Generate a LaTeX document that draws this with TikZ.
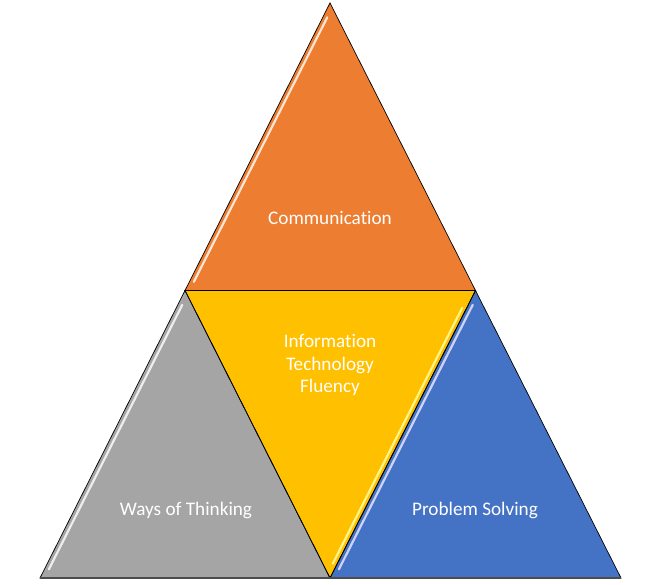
\documentclass[tikz,border=0pt]{standalone}
\usepackage{fontspec}
\setmainfont{Carlito}[Ligatures={NoCommon}]
\usetikzlibrary{calc}
\definecolor{cOrange}{HTML}{ED7D31}
\definecolor{cYellow}{HTML}{FFC000}
\definecolor{cGray}{HTML}{A5A5A5}
\definecolor{cBlue}{HTML}{4472C4}
\tikzset{
  tri/.style={draw=black, line width=0.7pt, line join=miter},
  hl/.style={white, opacity=0.8, line width=2.2pt, line cap=round},
  hly/.style={color=yellow!40!white, opacity=0.9, line width=2.2pt, line cap=round},
  hlb/.style={color=blue!10!white, opacity=0.85, line width=2.2pt, line cap=round},
  baseedge/.style={draw=black!70, line width=1.4pt},
  lbl/.style={text=white, font=\fontsize{19.2}{22.5}\selectfont, align=center, inner sep=0pt}
}
\begin{document}
\begin{tikzpicture}[x=1pt,y=1pt]
\useasboundingbox (0,0) rectangle (660,585);
\coordinate (A)  at (330,582);
\coordinate (BL) at (40,7);
\coordinate (BM) at (330,7);
\coordinate (BR) at (621,7);
\coordinate (ML) at ($(A)!0.5!(BL)$);
\coordinate (MR) at ($(A)!0.5!(BR)$);

% fills
\fill[cOrange] (A) -- (ML) -- (MR) -- cycle;
\fill[cGray] (ML) -- (BL) -- (BM) -- cycle;
\fill[cYellow] (ML) -- (MR) -- (BM) -- cycle;
\fill[cBlue] (MR) -- (BM) -- (BR) -- cycle;

% bevel highlights
\draw[hl] ([xshift=4.5pt]$(A)!0.05!(ML)$) -- ([xshift=4.5pt]$(A)!0.97!(ML)$);
\draw[hl] ([xshift=4.5pt]$(ML)!0.05!(BL)$) -- ([xshift=4.5pt]$(ML)!0.97!(BL)$);
\draw[hlb] ([xshift=4.5pt]$(MR)!0.05!(BM)$) -- ([xshift=4.5pt]$(MR)!0.97!(BM)$);
\draw[hly] ([xshift=-4.5pt]$(MR)!0.06!(BM)$) -- ([xshift=-4.5pt]$(MR)!0.95!(BM)$);

% outlines
\draw[tri] (A) -- (ML) -- (MR) -- cycle;
\draw[tri] (ML) -- (BL) -- (BM) -- cycle;
\draw[tri] (ML) -- (MR) -- (BM) -- cycle;
\draw[tri] (MR) -- (BM) -- (BR) -- cycle;
\draw[baseedge] (BL) -- (BR);

% labels
\node[lbl, anchor=base] (comm) at (330,360) {Communication};
\node[lbl] (itf) at (330,220) {Information\\Technology\\Fluency};
\node[lbl, anchor=base] (ways) at (186,69) {Ways of Thinking};
\node[lbl, anchor=base] (prob) at (475,69) {Problem Solving};
\end{tikzpicture}
\end{document}
